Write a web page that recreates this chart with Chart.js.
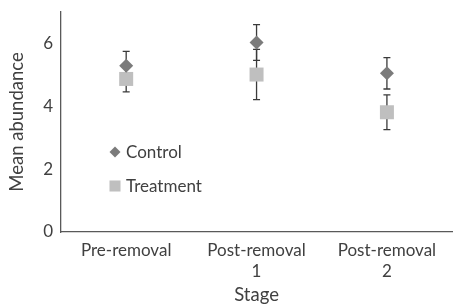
<!DOCTYPE html>
<html>
<head>
<meta charset="utf-8">
<script src="https://cdn.jsdelivr.net/npm/chart.js@4.4.0/dist/chart.umd.min.js"></script>
<style>
  html, body { margin: 0; padding: 0; background: #fff; overflow: hidden; }
</style>
</head>
<body>
<canvas id="chart" width="462" height="306"></canvas>
<script>
const stages = [["Pre-removal"], ["Post-removal", "1"], ["Post-removal", "2"]];
const controlMeans = [5.29, 6.03, 5.05];
const controlErrors = [0.46, 0.57, 0.5];
const treatmentMeans = [4.87, 5.01, 3.81];
const treatmentErrors = [0.41, 0.8, 0.55];
const yTicks = [0, 2, 4, 6];

const textColor = "#404040";
const fontFamily = "Lato, 'Open Sans', sans-serif";

// error bars go under the markers
const errorBars = {
  id: "errorBars",
  beforeDatasetsDraw(chart) {
    const { ctx, scales: { x, y } } = chart;
    ctx.save();
    ctx.strokeStyle = "#3a3a3a";
    ctx.lineWidth = 1.3;
    chart.data.datasets.forEach((ds) => {
      ds.data.forEach((m, i) => {
        const px = x.getPixelForValue(i);
        const top = y.getPixelForValue(m + ds.errors[i]);
        const bottom = y.getPixelForValue(m - ds.errors[i]);
        ctx.beginPath();
        ctx.moveTo(px, top);
        ctx.lineTo(px, bottom);
        ctx.moveTo(px - 3.5, top);
        ctx.lineTo(px + 3.5, top);
        ctx.moveTo(px - 3.5, bottom);
        ctx.lineTo(px + 3.5, bottom);
        ctx.stroke();
      });
    });
    ctx.restore();
  },
};

// legend sits inside the plot, lower left
const insideLegend = {
  id: "insideLegend",
  afterDraw(chart) {
    const { ctx, chartArea } = chart;
    ctx.save();
    chart.data.datasets.forEach((ds, i) => {
      const cx = chartArea.left + 54;
      const cy = chartArea.top + 140 + i * 34;
      ctx.fillStyle = ds.backgroundColor;
      Chart.helpers.drawPoint(
        ctx,
        { pointStyle: ds.pointStyle, radius: ds.legendRadius, borderWidth: 0, rotation: 0 },
        cx,
        cy
      );
      ctx.fillStyle = textColor;
      ctx.font = "17px " + fontFamily;
      ctx.textBaseline = "middle";
      ctx.textAlign = "left";
      ctx.fillText(ds.label, cx + 11, cy + 1);
    });
    ctx.restore();
  },
};

new Chart(document.getElementById("chart"), {
  type: "line",
  data: {
    labels: stages,
    datasets: [
      {
        label: "Control",
        data: controlMeans,
        errors: controlErrors,
        showLine: false,
        pointStyle: "rectRot",
        pointRadius: 7,
        legendRadius: 5.5,
        backgroundColor: "#7b7b7b",
        borderColor: "#7b7b7b",
        borderWidth: 0,
      },
      {
        label: "Treatment",
        data: treatmentMeans,
        errors: treatmentErrors,
        showLine: false,
        pointStyle: "rect",
        pointRadius: 9.9,
        legendRadius: 7.8,
        backgroundColor: "#bfbfbf",
        borderColor: "#bfbfbf",
        borderWidth: 0,
      },
    ],
  },
  options: {
    responsive: false,
    animation: false,
    layout: { padding: { top: 12, right: 0, left: 0, bottom: 0 } },
    plugins: {
      legend: { display: false },
      tooltip: { enabled: false },
    },
    scales: {
      x: {
        offset: true,
        grid: { display: false, drawTicks: false },
        border: { color: "#595959", width: 1.3 },
        ticks: {
          color: textColor,
          padding: 8,
          maxRotation: 0,
          autoSkip: false,
          font: { family: fontFamily, size: 17, lineHeight: 1.25 },
        },
        title: {
          display: true,
          text: "Stage",
          color: textColor,
          padding: { top: 0, bottom: 0 },
          font: { family: fontFamily, size: 18.5 },
        },
        afterFit: (scale) => {
          scale.height = 74;
          scale.paddingLeft = 0;
          scale.paddingRight = 0;
        },
      },
      y: {
        min: 0,
        max: 7,
        grid: { display: false, drawTicks: false },
        border: { color: "#595959", width: 1.3 },
        ticks: {
          color: textColor,
          padding: 8,
          font: { family: fontFamily, size: 17 },
        },
        afterBuildTicks: (scale) => {
          scale.ticks = yTicks.map((v) => ({ value: v }));
        },
        title: {
          display: true,
          text: "Mean abundance",
          color: textColor,
          padding: { top: 6, bottom: 0 },
          font: { family: fontFamily, size: 18.5 },
        },
        afterFit: (scale) => {
          scale.width = 61;
          scale.paddingTop = 0;
          scale.paddingBottom = 0;
        },
      },
    },
  },
  plugins: [errorBars, insideLegend],
});
</script>
</body>
</html>
